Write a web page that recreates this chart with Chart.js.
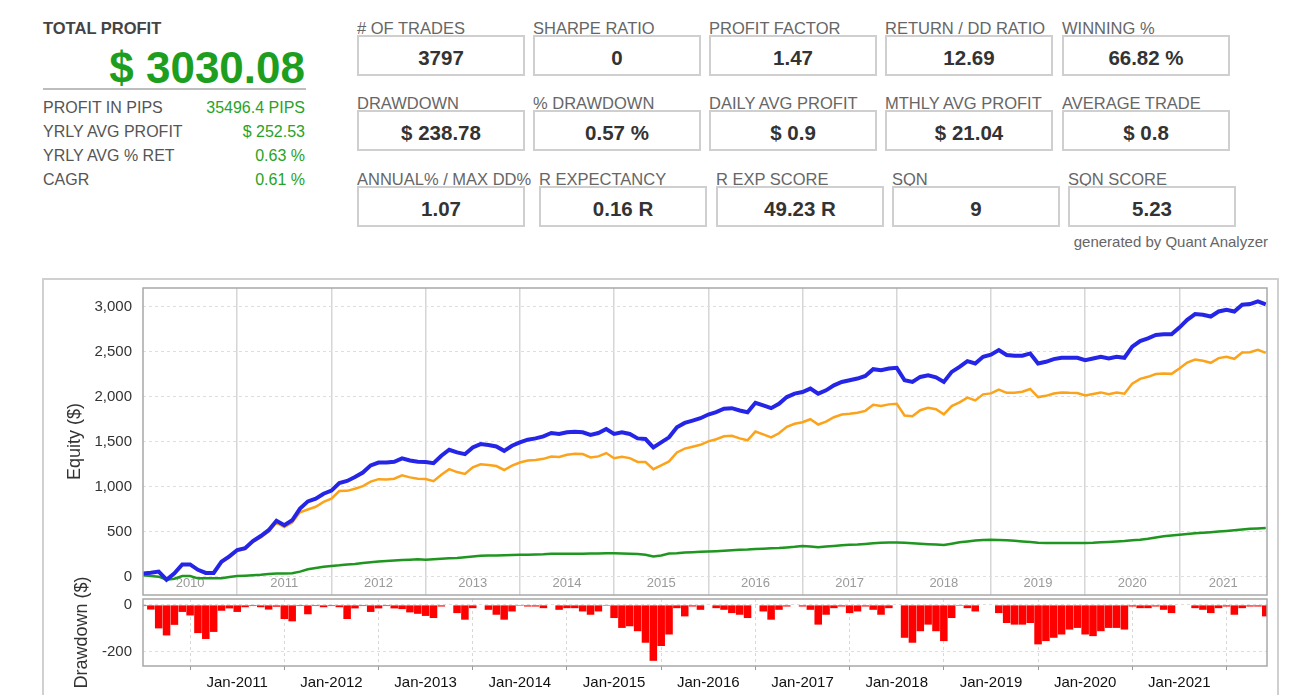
<!DOCTYPE html>
<html lang="en">

<head>
    <meta charset="UTF-8">
    <title>Quant Analyzer Equity</title>
    <script src="https://cdn.jsdelivr.net/npm/chart.js"></script>
    <style>
        body { margin: 0; width: 1290px; height: 695px; overflow: hidden; background: #fff;
               font-family: "Liberation Sans", Arial, sans-serif; position: relative; }
        .abs { position: absolute; white-space: nowrap; }
        .lbl { font-size: 16.5px; line-height: 16px; color: #666; }
        .box { position: absolute; box-sizing: border-box; border: 2px solid #cfcfcf; width: 168px; height: 41px; }
        .val { position: absolute; left: 0; right: 0; top: 11px; text-align: center;
               font-size: 20.5px; line-height: 20px; font-weight: bold; color: #333; }
        .row { font-size: 16px; line-height: 16px; color: #555; }
        .green { color: #27a327; text-align: right; }
        #frame { position: absolute; left: 42px; top: 278px; width: 1237px; height: 440px;
                 box-sizing: border-box; border: 2px solid #d0d0d0; }
        canvas { position: absolute; }
    </style>
</head>

<body>
    <div class="abs" style="left:43px;top:20px;font-size:16.5px;line-height:16px;font-weight:bold;color:#444;">TOTAL PROFIT</div>
    <div class="abs" style="right:985px;top:46px;font-size:44px;line-height:44px;font-weight:bold;color:#1e9e1e;">$ 3030.08</div>
    <div class="abs" style="left:43px;top:88px;width:263px;height:2px;background:#bdbdbd;"></div>

    <div class="abs row" style="left:43px;top:100px;">PROFIT IN PIPS</div>
    <div class="abs row green" style="right:985px;top:100px;">35496.4 PIPS</div>
    <div class="abs row" style="left:43px;top:124px;">YRLY AVG PROFIT</div>
    <div class="abs row green" style="right:985px;top:124px;">$ 252.53</div>
    <div class="abs row" style="left:43px;top:148px;">YRLY AVG % RET</div>
    <div class="abs row green" style="right:985px;top:148px;">0.63 %</div>
    <div class="abs row" style="left:43px;top:172px;">CAGR</div>
    <div class="abs row green" style="right:985px;top:172px;">0.61 %</div>

    <div id="stats"></div>

    <div class="abs" style="right:22px;top:234px;font-size:15px;line-height:15px;color:#666;">generated by Quant Analyzer</div>

    <div id="frame"></div>
    <canvas id="equityChart" width="1235" height="322" style="left:43px;top:279px;"></canvas>
    <canvas id="ddChart" width="1235" height="120" style="left:43px;top:575px;"></canvas>

    <script>
        // stat boxes, one row per array
        var statRow1 = [['# OF TRADES', '3797'], ['SHARPE RATIO', '0'], ['PROFIT FACTOR', '1.47'], ['RETURN / DD RATIO', '12.69'], ['WINNING %', '66.82 %']];
        var statRow2 = [['DRAWDOWN', '$ 238.78'], ['% DRAWDOWN', '0.57 %'], ['DAILY AVG PROFIT', '$ 0.9'], ['MTHLY AVG PROFIT', '$ 21.04'], ['AVERAGE TRADE', '$ 0.8']];
        var statRow3 = [['ANNUAL% / MAX DD%', '1.07'], ['R EXPECTANCY', '0.16 R'], ['R EXP SCORE', '49.23 R'], ['SQN', '9'], ['SQN SCORE', '5.23']];

        // equity, monthly from Jan-2010
        var firstYear = 2010;
        var blueEquity = [40, 48, 60, -30, 40, 140, 140, 80, 45, 45, 170, 230,
            300, 320, 400, 455, 520, 625, 575, 630, 760, 840, 870, 925,
            960, 1045, 1067, 1110, 1160, 1240, 1272, 1272, 1280, 1318, 1295, 1280,
            1277, 1265, 1347, 1414, 1384, 1365, 1440, 1477, 1466, 1451, 1402, 1458,
            1496, 1526, 1540, 1563, 1600, 1589, 1608, 1615, 1608, 1578, 1600, 1645,
            1589, 1608, 1589, 1540, 1533, 1440, 1496, 1552, 1664, 1712, 1738, 1764,
            1805, 1831, 1869, 1876, 1850, 1831, 1936, 1906, 1876, 1925, 1999, 2037,
            2055, 2093, 2037, 2074, 2130, 2167, 2186, 2205, 2234, 2309, 2298, 2316,
            2324, 2186, 2167, 2223, 2242, 2219, 2167, 2279, 2335, 2398, 2372, 2447,
            2470, 2521, 2466, 2458, 2458, 2484, 2372, 2391, 2421, 2436, 2436, 2436,
            2410, 2428, 2447, 2428, 2447, 2436, 2559, 2622, 2652, 2689, 2697, 2697,
            2771, 2857, 2921, 2913, 2894, 2950, 2969, 2950, 3025, 3032, 3062, 3030];
        var orangeEquity = [40, 48, 60, -30, 40, 135, 135, 75, 40, 40, 160, 220,
            290, 310, 390, 440, 505, 605, 555, 605, 720, 750, 780, 835,
            870, 955, 957, 980, 1010, 1060, 1087, 1084, 1092, 1130, 1107, 1092,
            1089, 1065, 1137, 1198, 1166, 1145, 1218, 1253, 1244, 1233, 1189, 1238,
            1272, 1294, 1300, 1313, 1339, 1334, 1358, 1370, 1366, 1328, 1340, 1377,
            1319, 1336, 1321, 1278, 1278, 1198, 1241, 1284, 1384, 1427, 1448, 1469,
            1507, 1531, 1564, 1568, 1540, 1519, 1616, 1584, 1551, 1597, 1669, 1703,
            1719, 1753, 1694, 1726, 1775, 1805, 1813, 1825, 1846, 1914, 1901, 1918,
            1925, 1795, 1787, 1853, 1880, 1865, 1807, 1899, 1940, 1993, 1962, 2029,
            2040, 2081, 2046, 2048, 2058, 2089, 1999, 2013, 2039, 2050, 2046, 2044,
            2018, 2034, 2051, 2031, 2049, 2037, 2149, 2202, 2224, 2255, 2261, 2257,
            2316, 2382, 2416, 2402, 2380, 2432, 2447, 2424, 2495, 2498, 2524, 2490];
        var greenEquity = [20, 10, 4, -30, -20, 10, 10, -15, -15, -15, -15, 0,
            11, 15, 20, 25, 34, 38, 40, 41, 60, 86, 100, 115,
            123, 130, 140, 145, 155, 165, 172, 178, 183, 188, 193, 198,
            192, 198, 203, 208, 212, 220, 228, 235, 238, 240, 242, 244,
            246, 248, 250, 252, 257, 257, 257, 257, 257, 260, 262, 264,
            265, 262, 258, 255, 248, 228, 240, 260, 265, 272, 276, 280,
            283, 287, 292, 297, 302, 305, 310, 315, 320, 322, 328, 335,
            345, 340, 330, 338, 345, 352, 358, 362, 368, 375, 380, 383,
            384, 380, 375, 370, 365, 360, 356, 370, 385, 395, 405, 410,
            414, 412, 408, 402, 395, 388, 380, 377, 377, 377, 377, 377,
            377, 380, 385, 390, 395, 400, 408, 414, 425, 440, 452, 462,
            470, 478, 486, 492, 498, 505, 512, 520, 528, 535, 540, 545];
        var drawdown = [-5, -20, -100, -130, -85, -30, -45, -120, -145, -115, -25, -15,
            -30, -10, -5, -10, -20, -8, -60, -70, -5, -40, -5, -10,
            -5, -10, -60, -15, -5, -30, -15, -5, -15, -18, -32, -38,
            -47, -56, -7, 0, -35, -63, -14, 0, -21, -42, -63, -28,
            -4, -7, -7, -14, 0, -21, -14, -14, -28, -42, -28, -4,
            -56, -98, -91, -112, -161, -238, -175, -126, -14, -49, -7, -21,
            0, -14, -21, -35, -42, -56, 0, -28, -63, -21, -7, 0,
            -7, -21, -84, -42, -14, -7, -35, -28, -7, -21, -42, -14,
            0, -140, -161, -112, -84, -112, -154, -56, -4, -14, -28, 0,
            0, -35, -77, -84, -84, -77, -168, -154, -140, -126, -105, -98,
            -126, -133, -112, -98, -98, -105, -7, -14, -14, -7, -21, -35,
            0, 0, -14, -21, -35, -14, -7, -42, -14, -7, -7, -49];

        var yearLabels = ['2010', '2011', '2012', '2013', '2014', '2015', '2016', '2017', '2018', '2019', '2020', '2021'];
        var janYears = [2011, 2012, 2013, 2014, 2015, 2016, 2017, 2018, 2019, 2020, 2021];
        var janLabels = ['Jan-2011', 'Jan-2012', 'Jan-2013', 'Jan-2014', 'Jan-2015', 'Jan-2016', 'Jan-2017', 'Jan-2018', 'Jan-2019', 'Jan-2020', 'Jan-2021'];
        var equityTicks = [0, 500, 1000, 1500, 2000, 2500, 3000];
        var ddTicks = [0, -200];
        var xMin = 2010, xMax = 2021.93;

        // build the stat boxes
        var rowTops = [35, 110, 186];
        var rowLefts = [[357, 533, 709, 885, 1062], [357, 533, 709, 885, 1062], [357, 539, 716, 892, 1068]];
        var statsDiv = document.getElementById('stats');
        [statRow1, statRow2, statRow3].forEach(function (row, r) {
            row.forEach(function (s, i) {
                var lab = document.createElement('div');
                lab.className = 'abs lbl';
                lab.style.left = rowLefts[r][i] + 'px';
                lab.style.top = (rowTops[r] - 15) + 'px';
                lab.textContent = s[0];
                statsDiv.appendChild(lab);
                var box = document.createElement('div');
                box.className = 'box';
                box.style.left = rowLefts[r][i] + 'px';
                box.style.top = rowTops[r] + 'px';
                box.innerHTML = '<div class="val">' + s[1] + '</div>';
                statsDiv.appendChild(box);
            });
        });

        function toPoints(arr) {
            return arr.map(function (v, i) { return { x: firstYear + i / 12, y: v }; });
        }

        // keep the plot area exactly where the padding puts it
        function noEdgePadding(s) {
            s.paddingTop = 0; s.paddingBottom = 0; s.paddingLeft = 0; s.paddingRight = 0;
        }

        Chart.defaults.font.family = '"Liberation Sans", Arial, sans-serif';

        var plotBorder = {
            id: 'plotBorder',
            afterDatasetsDraw: function (chart) {
                var a = chart.chartArea, c = chart.ctx;
                c.save();
                c.strokeStyle = '#a8a8a8';
                c.lineWidth = 1.5;
                c.strokeRect(a.left, a.top, a.right - a.left, a.bottom - a.top);
                c.restore();
            }
        };

        // year names sit inside the plot, centred in each year
        var yearNames = {
            id: 'yearNames',
            beforeDatasetsDraw: function (chart) {
                var x = chart.scales.x, a = chart.chartArea, c = chart.ctx;
                c.save();
                c.font = '13px "Liberation Sans", Arial, sans-serif';
                c.fillStyle = '#9a9a9a';
                c.textAlign = 'center';
                c.textBaseline = 'middle';
                yearLabels.forEach(function (lab, i) {
                    var y0 = firstYear + i, y1 = Math.min(y0 + 1, xMax);
                    c.fillText(lab, (x.getPixelForValue(y0) + x.getPixelForValue(y1)) / 2, a.bottom - 12);
                });
                c.restore();
            }
        };

        new Chart(document.getElementById('equityChart'), {
            type: 'line',
            data: {
                datasets: [
                    { data: toPoints(blueEquity), borderColor: '#2525e8', borderWidth: 4, pointRadius: 0, tension: 0 },
                    { data: toPoints(orangeEquity), borderColor: '#fca31c', borderWidth: 2.5, pointRadius: 0, tension: 0 },
                    { data: toPoints(greenEquity), borderColor: '#1f961f', borderWidth: 2.5, pointRadius: 0, tension: 0 }
                ]
            },
            options: {
                responsive: false,
                animation: false,
                events: [],
                layout: { padding: { left: 0, right: 11, top: 9, bottom: 6 } },
                plugins: { legend: { display: false }, tooltip: { enabled: false } },
                scales: {
                    x: {
                        type: 'linear', min: xMin, max: xMax,
                        afterBuildTicks: function (s) { s.ticks = janYears.map(function (v) { return { value: v }; }); },
                        ticks: { display: false },
                        grid: { color: '#d6d6d6', lineWidth: 1.5, drawTicks: false },
                        border: { display: false },
                        afterFit: function (s) { s.height = 0; noEdgePadding(s); }
                    },
                    y: {
                        min: -200, max: 3211,
                        afterBuildTicks: function (s) { s.ticks = equityTicks.map(function (v) { return { value: v }; }); },
                        ticks: { padding: 11, color: '#333', font: { size: 15 }, callback: function (v) { return v.toLocaleString('en-US'); } },
                        grid: { color: '#dedede', drawTicks: false },
                        border: { display: false, dash: [3, 3] },
                        title: { display: true, text: 'Equity ($)', color: '#333', font: { size: 18 }, padding: { top: 21, bottom: 0 } },
                        afterFit: function (s) { s.width = 100; noEdgePadding(s); }
                    }
                }
            },
            plugins: [yearNames, plotBorder]
        });

        new Chart(document.getElementById('ddChart'), {
            type: 'bar',
            data: {
                datasets: [
                    { data: toPoints(drawdown), backgroundColor: '#ff0000', borderWidth: 0, barPercentage: 0.96, categoryPercentage: 1 }
                ]
            },
            options: {
                responsive: false,
                animation: false,
                events: [],
                layout: { padding: { left: 0, right: 11, top: 24, bottom: 0 } },
                plugins: { legend: { display: false }, tooltip: { enabled: false } },
                scales: {
                    x: {
                        type: 'linear', min: xMin, max: xMax, offset: false,
                        afterBuildTicks: function (s) { s.ticks = janYears.map(function (v) { return { value: v }; }); },
                        ticks: { color: '#111', font: { size: 15 }, padding: 4, maxRotation: 0, autoSkip: false,
                                 callback: function (v, i) { return janLabels[i]; } },
                        grid: { color: '#d8d8d8', tickLength: 4, tickColor: '#999' },
                        border: { display: false, dash: [3, 3] },
                        afterFit: function (s) { s.height = 29; noEdgePadding(s); }
                    },
                    y: {
                        min: -260, max: 25,
                        afterBuildTicks: function (s) { s.ticks = ddTicks.map(function (v) { return { value: v }; }); },
                        ticks: { padding: 11, color: '#333', font: { size: 15 } },
                        grid: { color: '#dedede', drawTicks: false },
                        border: { display: false, dash: [3, 3] },
                        title: { display: true, text: 'Drawdown ($)', color: '#333', font: { size: 18 }, padding: { top: 28, bottom: 0 } },
                        afterFit: function (s) { s.width = 100; noEdgePadding(s); }
                    }
                }
            },
            plugins: [plotBorder]
        });
    </script>
</body>

</html>
